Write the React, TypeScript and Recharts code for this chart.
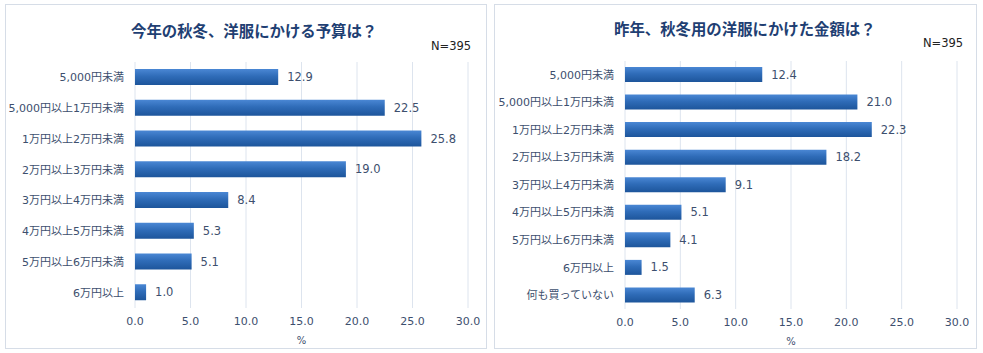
import React from "react";
import { BarChart, Bar, XAxis, YAxis, CartesianGrid, LabelList } from "recharts";

const BUDGET_CATEGORIES = [
	"5,000円未満",
	"5,000円以上1万円未満",
	"1万円以上2万円未満",
	"2万円以上3万円未満",
	"3万円以上4万円未満",
	"4万円以上5万円未満",
	"5万円以上6万円未満",
	"6万円以上",
];
const BUDGET_VALUES = [12.9, 22.5, 25.8, 19.0, 8.4, 5.3, 5.1, 1.0];

const SPENT_CATEGORIES = [
	"5,000円未満",
	"5,000円以上1万円未満",
	"1万円以上2万円未満",
	"2万円以上3万円未満",
	"3万円以上4万円未満",
	"4万円以上5万円未満",
	"5万円以上6万円未満",
	"6万円以上",
	"何も買っていない",
];
const SPENT_VALUES = [12.4, 21.0, 22.3, 18.2, 9.1, 5.1, 4.1, 1.5, 6.3];

const X_TICKS = [0, 5, 10, 15, 20, 25, 30];

const FONT = "'DejaVu Sans', 'Noto Sans CJK JP', sans-serif";
const TITLE_COLOR = "#1f3f73";
const TEXT_COLOR = "#3d4f6e";
const GRID_COLOR = "#dde4ee";

type PanelProps = {
	id: string;
	left: number;
	width: number;
	title: string;
	titleLeft: number;
	titleTop: number;
	nLeft: number;
	nTop: number;
	categories: string[];
	values: number[];
	margin: { top: number; right: number; bottom: number };
	yWidth: number;
	barSize: number;
};

function Panel(p: PanelProps) {
	const data = p.categories.map((name, i) => ({ name, value: p.values[i] }));
	return (
		<div
			style={{
				position: "absolute",
				left: p.left,
				top: 4,
				width: p.width,
				height: 345,
				border: "1px solid #d6dde7",
				boxSizing: "border-box",
				background: "#fff",
			}}>
			<div
				style={{
					position: "absolute",
					left: p.titleLeft,
					top: p.titleTop,
					fontFamily: "'Noto Sans CJK JP', sans-serif",
					fontWeight: 700,
					fontSize: 15.4,
					color: TITLE_COLOR,
					whiteSpace: "nowrap",
				}}>
				{p.title}
			</div>
			<div
				style={{
					position: "absolute",
					left: p.nLeft,
					top: p.nTop,
					fontFamily: FONT,
					fontSize: 11.5,
					color: "#222",
				}}>
				N=395
			</div>
			<div style={{ position: "absolute", left: -1, top: -1 }}>
				<BarChart
					width={p.width}
					height={345}
					data={data}
					layout='vertical'
					margin={{ top: p.margin.top, right: p.margin.right, bottom: p.margin.bottom, left: 0 }}>
					<defs>
						<linearGradient id={`grad-${p.id}`} x1='0' y1='0' x2='0' y2='1'>
							<stop offset='0%' stopColor='#4a87d4' />
							<stop offset='45%' stopColor='#2f6cb8' />
							<stop offset='100%' stopColor='#1d559b' />
						</linearGradient>
					</defs>
					<CartesianGrid horizontal={false} stroke={GRID_COLOR} />
					<XAxis
						type='number'
						domain={[0, 30]}
						ticks={X_TICKS}
						tickFormatter={(v: number) => v.toFixed(1)}
						axisLine={false}
						tickLine={false}
						tickSize={0}
						tickMargin={9}
						height={36}
						tick={{ fill: TEXT_COLOR, fontSize: 11, fontFamily: FONT }}
						label={{
							value: "%",
							position: "insideBottom",
							offset: 0,
							fill: TEXT_COLOR,
							fontSize: 10,
							fontFamily: FONT,
						}}
					/>
					<YAxis
						type='category'
						dataKey='name'
						width={p.yWidth}
						axisLine={false}
						tickLine={false}
						tickSize={0}
						tickMargin={11}
						interval={0}
						tick={{ fill: TEXT_COLOR, fontSize: 11, fontFamily: FONT }}
					/>
					<Bar
						dataKey='value'
						fill={`url(#grad-${p.id})`}
						barSize={p.barSize}
						isAnimationActive={false}>
						<LabelList
							dataKey='value'
							position='right'
							offset={9}
							formatter={(v: number) => v.toFixed(1)}
							style={{ fill: TEXT_COLOR, fontSize: 11.5, fontFamily: FONT }}
						/>
					</Bar>
				</BarChart>
			</div>
		</div>
	);
}

export default function App() {
	return (
		<div
			style={{
				position: "absolute",
				left: 0,
				top: 0,
				width: 983,
				height: 353,
				background: "#fff",
				overflow: "hidden",
			}}>
			<Panel
				id='budget'
				left={5}
				width={482}
				title='今年の秋冬、洋服にかける予算は？'
				titleLeft={125}
				titleTop={14}
				nLeft={425}
				nTop={34}
				categories={BUDGET_CATEGORIES}
				values={BUDGET_VALUES}
				margin={{ top: 58, right: 19, bottom: 5 }}
				yWidth={130}
				barSize={16}
			/>
			<Panel
				id='spent'
				left={494}
				width={483}
				title='昨年、秋冬用の洋服にかけた金額は？'
				titleLeft={119}
				titleTop={12}
				nLeft={428}
				nTop={31}
				categories={SPENT_CATEGORIES}
				values={SPENT_VALUES}
				margin={{ top: 57, right: 20, bottom: 4 }}
				yWidth={131}
				barSize={15}
			/>
		</div>
	);
}
